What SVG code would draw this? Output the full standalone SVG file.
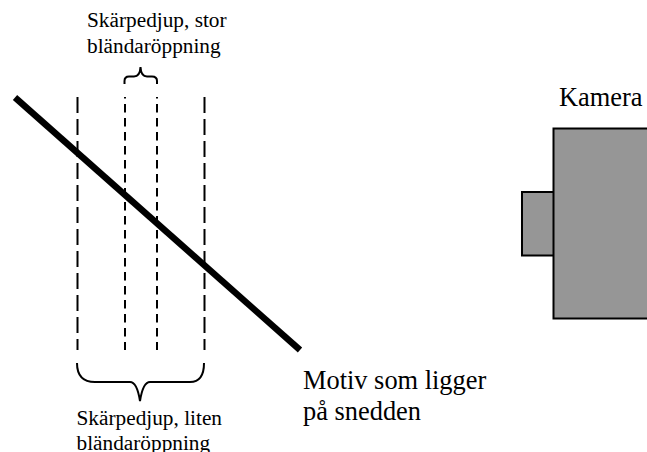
<svg xmlns="http://www.w3.org/2000/svg" width="647" height="452" viewBox="0 0 647 452">
<style>
text{font-family:"Liberation Serif","Times New Roman",serif;fill:#000}
.s{font-size:21.3px}
.l{font-size:26.4px}
.d{fill:none;stroke:#000;stroke-width:2}
.b{fill:none;stroke:#000;stroke-width:2}
.c{fill:#969696;stroke:#000;stroke-width:2}
</style>
<rect width="647" height="452" fill="#fff"/>
<g id="connectors">
<path class="d" d="M77.500 97V350" stroke-dasharray="16 6"/>
<path class="d" d="M204.500 97V350" stroke-dasharray="16 6"/>
<path class="d" d="M125 97V350" stroke-dasharray="8.500 5.500" stroke-dashoffset="7"/>
<path class="d" d="M157 97V350" stroke-dasharray="8.500 5.500" stroke-dashoffset="7"/>
<path d="M15 97.500L300 350" fill="none" stroke="#000" stroke-width="6.500"/>
<path class="b" d="M124.500 84V81Q124.500 76.500 129 76.500H134Q140 76.500 140.500 67Q141 76.500 147 76.500H152Q157 76.500 157 81V84"/>
<path class="b" d="M77 363Q77 382 95 382H130Q137 382 140 401Q143 382 150 382H190Q204 382 204 363"/>
</g>
<g id="camera">
<rect class="c" x="522" y="192" width="32" height="63.500"/>
<rect class="c" x="553.500" y="128.500" width="96" height="190"/>
<text class="l" x="559" y="105.500">Kamera</text>
</g>
<g id="label-stor">
<text class="s" x="87" y="27">Skärpedjup, stor</text>
<text class="s" x="87" y="53">bländaröppning</text>
</g>
<g id="label-liten">
<text class="s" x="76.500" y="425">Skärpedjup, liten</text>
<text class="s" x="76.500" y="450">bländaröppning</text>
</g>
<g id="label-motiv">
<text class="l" x="303" y="388.500">Motiv som ligger</text>
<text class="l" x="303" y="420">på snedden</text>
</g>
</svg>
